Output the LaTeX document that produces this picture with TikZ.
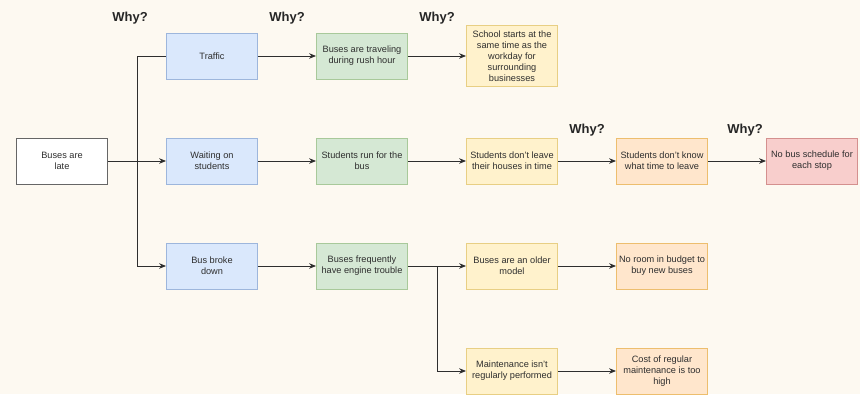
\documentclass[tikz,border=0pt]{standalone}
\usepackage{fontspec}
\setmainfont{Liberation Sans}
\usetikzlibrary{arrows.meta}
\definecolor{bgcream}{HTML}{FDF9F1}
\definecolor{txtgray}{HTML}{2E2E2E}
\definecolor{bluefill}{HTML}{DAE8FC}\definecolor{bluedraw}{HTML}{9DB6DC}
\definecolor{greenfill}{HTML}{D5E8D4}\definecolor{greendraw}{HTML}{A8C99A}
\definecolor{yellowfill}{HTML}{FFF2CC}\definecolor{yellowdraw}{HTML}{E8CF84}
\definecolor{orangefill}{HTML}{FFE6CC}\definecolor{orangedraw}{HTML}{EDBE6E}
\definecolor{redfill}{HTML}{F8CECC}\definecolor{reddraw}{HTML}{D4908E}
\begin{document}
\begin{tikzpicture}[x=1pt,y=-1pt,
    box/.style={draw, line width=0.8pt, minimum width=91pt, minimum height=46pt,
        inner sep=1pt, align=center, text=txtgray,
        font=\fontsize{9.2}{11}\selectfont},
    why/.style={font=\fontsize{13}{15}\selectfont\bfseries, text=black!85},
    link/.style={draw=txtgray, line width=0.9pt, -{Stealth[length=7pt,width=5.5pt]}},
    plain/.style={draw=txtgray, line width=0.9pt}]
    \fill[bgcream] (0,0) rectangle (860,394);
    \useasboundingbox (0,0) rectangle (860,394);

    % \draw[help lines, color=gray!30] (0,0) grid[step=50] (860,394);
    \node[box, fill=white, draw=black!60] (late) at (62,161) {Buses are\\late};

    \node[box, fill=bluefill, draw=bluedraw] (traffic) at (212,56) {Traffic};
    \node[box, fill=bluefill, draw=bluedraw] (waiting) at (212,161) {Waiting on\\students};
    \node[box, fill=bluefill, draw=bluedraw] (broke) at (212,266) {Bus broke\\down};

    \node[box, fill=greenfill, draw=greendraw] (rush) at (362,56) {Buses are traveling\\during rush hour};
    \node[box, fill=greenfill, draw=greendraw] (run) at (362,161) {Students run for the\\bus};
    \node[box, fill=greenfill, draw=greendraw] (engine) at (362,266) {Buses frequently\\have engine trouble};

    \node[box, fill=yellowfill, draw=yellowdraw, minimum height=61pt] (school) at (512,56)
        {School starts at the\\same time as the\\workday for\\surrounding\\businesses};
    \node[box, fill=yellowfill, draw=yellowdraw] (leave) at (512,161) {Students don't leave\\their houses in time};
    \node[box, fill=yellowfill, draw=yellowdraw] (older) at (512,266) {Buses are an older\\model};
    \node[box, fill=yellowfill, draw=yellowdraw] (maint) at (512,371) {Maintenance isn't\\regularly performed};

    \node[box, fill=orangefill, draw=orangedraw] (know) at (662,161) {Students don't know\\what time to leave};
    \node[box, fill=orangefill, draw=orangedraw] (budget) at (662,266) {No room in budget to\\buy new buses};
    \node[box, fill=orangefill, draw=orangedraw] (cost) at (662,371) {Cost of regular\\maintenance is too\\high};

    \node[box, fill=redfill, draw=reddraw] (sched) at (812,161) {No bus schedule for\\each stop};

    \foreach \x/\y in {130/18, 287/18, 437/18, 587/130, 745/130}
        \node[why] (why\x) at (\x,\y) {Why?};

    \coordinate (fork) at (137,161);
    \coordinate (fork2) at (437,266);

    \draw[link] (late) -- (waiting);
    \draw[plain] (traffic.west) -| (fork);
    \draw[link] (fork) |- (broke.west);

    \draw[link] (traffic) -- (rush);
    \draw[link] (waiting) -- (run);
    \draw[link] (broke) -- (engine);

    \draw[link] (rush) -- (school.west |- rush);
    \draw[link] (run) -- (leave);
    \draw[link] (engine) -- (older);
    \draw[link] (fork2) |- (maint);

    \draw[link] (leave) -- (know);
    \draw[link] (know) -- (sched);
    \draw[link] (older) -- (budget);
    \draw[link] (maint) -- (cost);
\end{tikzpicture}
\end{document}
